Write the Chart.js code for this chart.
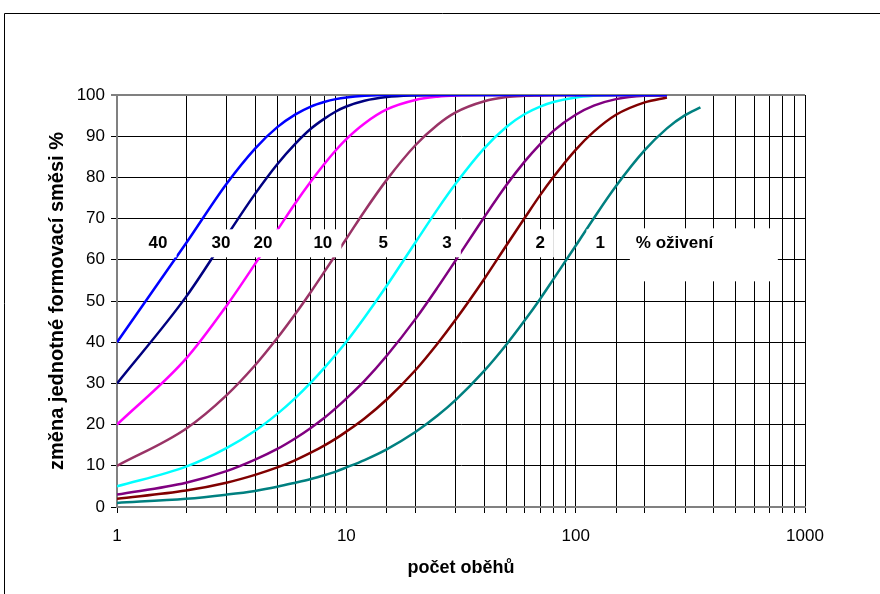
<!DOCTYPE html>
<html lang="cs">

<head>
  <meta charset="UTF-8">
  <title>Změna formovací směsi</title>
  <script type="text/javascript" src="https://cdn.jsdelivr.net/npm/chart.js@4.4.1/dist/chart.umd.min.js"></script>
  <style>
    body { margin: 0; background: #fff; }
    #wrap { position: relative; width: 880px; height: 594px; }
  </style>
</head>

<body>
  <div id="wrap"><canvas id="smes"></canvas></div>

  <script>
    // pocet obehu (x values)
    const cycles = [1, 2, 3, 4, 5, 6, 7, 8, 9, 10, 12, 15, 20, 25, 30, 40, 50, 60, 70, 80, 100, 120, 150, 200, 250, 300, 350];

    // zmena jednotne formovaci smesi % for each % oziveni
    const revive40 = [40, 64, 78.4, 87.0, 92.2, 95.3, 97.2, 98.3, 99.0, 99.4, 99.8, 100, 100, 100, 100, 100, 100, 100, 100, 100, 100, 100, 100, 100, 100, null, null];
    const revive30 = [30, 51, 65.7, 76.0, 83.2, 88.2, 91.8, 94.2, 96.0, 97.2, 98.6, 99.5, 99.9, 100, 100, 100, 100, 100, 100, 100, 100, 100, 100, 100, 100, null, null];
    const revive20 = [20, 36, 48.8, 59.0, 67.2, 73.8, 79.0, 83.2, 86.6, 89.3, 93.1, 96.5, 98.8, 99.6, 99.9, 100, 100, 100, 100, 100, 100, 100, 100, 100, 100, null, null];
    const revive10 = [10, 19, 27.1, 34.4, 41.0, 46.9, 52.2, 57.0, 61.3, 65.1, 71.8, 79.4, 87.8, 92.8, 95.8, 98.5, 99.5, 99.8, 99.9, 100, 100, 100, 100, 100, 100, null, null];
    const revive5 = [5, 9.8, 14.3, 18.5, 22.6, 26.5, 30.2, 33.7, 37.0, 40.1, 46.0, 53.7, 64.2, 72.3, 78.5, 87.1, 92.3, 95.4, 97.2, 98.3, 99.4, 99.8, 100, 100, 100, null, null];
    const revive3 = [3, 5.9, 8.7, 11.5, 14.1, 16.7, 19.2, 21.6, 24.0, 26.3, 30.6, 36.7, 45.6, 53.3, 59.9, 70.4, 78.2, 83.9, 88.1, 91.3, 95.2, 97.4, 99.0, 99.8, 99.9, null, null];
    const revive2 = [2, 4.0, 5.9, 7.8, 9.6, 11.4, 13.2, 14.9, 16.6, 18.3, 21.5, 26.1, 33.2, 39.7, 45.5, 55.4, 63.6, 70.2, 75.7, 80.1, 86.7, 91.1, 95.2, 98.2, 99.4, null, null];
    const revive1 = [1, 2.0, 3.0, 3.9, 4.9, 5.9, 6.8, 7.7, 8.6, 9.6, 11.4, 14.0, 18.2, 22.2, 26.0, 33.1, 39.5, 45.3, 50.5, 55.3, 63.4, 70.1, 77.9, 86.6, 91.9, 95.1, 97.0];

    const seriesNames = ['40', '30', '20', '10', '5', '3', '2', '1'];
    const seriesValues = [revive40, revive30, revive20, revive10, revive5, revive3, revive2, revive1];
    const seriesColors = ['#0000FF', '#000080', '#FF00FF', '#993366', '#00FFFF', '#800080', '#800000', '#008080'];

    // where the curve labels sit (x in cycles, y in %)
    const labelCycles = [1.51, 2.84, 4.33, 7.9, 14.5, 27.5, 70, 128];
    const labelLevel = 64;
    const unitText = '% oživení';
    const unitCycles = 183;

    const xTickLabels = [1, 10, 100, 1000];

    const FONT = '"Liberation Sans", Arial, sans-serif';
    Chart.defaults.font.family = FONT;
    Chart.defaults.color = '#000';

    const datasets = seriesNames.map((name, i) => ({
      label: name,
      data: cycles.map((c, j) => ({ x: c, y: seriesValues[i][j] })).filter(p => p.y !== null),
      borderColor: seriesColors[i],
      backgroundColor: seriesColors[i],
      borderWidth: 2.5,
      pointRadius: 0,
      fill: false,
      cubicInterpolationMode: 'monotone'
    }));

    // white page + outer frame
    const framePlugin = {
      id: 'frame',
      beforeDraw(chart) {
        const c = chart.ctx;
        c.save();
        c.fillStyle = '#fff';
        c.fillRect(0, 0, chart.width, chart.height);
        c.strokeStyle = '#000';
        c.lineWidth = 1;
        c.beginPath();
        c.moveTo(4.5, chart.height);
        c.lineTo(4.5, 13.5);
        c.lineTo(chart.width, 13.5);
        c.stroke();
        c.restore();
      }
    };

    // curve labels with white boxes
    const labelPlugin = {
      id: 'curveLabels',
      afterDatasetsDraw(chart) {
        const c = chart.ctx;
        const xs = chart.scales.x;
        const ys = chart.scales.y;
        const yPix = ys.getPixelForValue(labelLevel);
        c.save();
        c.font = 'bold 17px ' + FONT;
        c.textBaseline = 'middle';
        seriesNames.forEach((name, i) => {
          const xPix = xs.getPixelForValue(labelCycles[i]);
          const w = c.measureText(name).width + 18;
          c.fillStyle = '#fff';
          c.fillRect(xPix - w / 2, yPix - 14, w, 28);
          c.fillStyle = '#000';
          c.textAlign = 'center';
          c.fillText(name, xPix, yPix);
        });
        const ux = xs.getPixelForValue(unitCycles);
        c.fillStyle = '#fff';
        c.fillRect(ux - 6, yPix - 15, 148, 53);
        c.fillStyle = '#000';
        c.textAlign = 'left';
        c.fillText(unitText, ux, yPix);
        c.restore();
      }
    };

    new Chart(document.getElementById('smes'), {
      type: 'line',
      data: { datasets },
      plugins: [framePlugin, labelPlugin],
      options: {
        responsive: true,
        maintainAspectRatio: false,
        animation: false,
        layout: { padding: { left: 45, top: 95, right: 75, bottom: 15 } },
        plugins: {
          legend: { display: false },
          tooltip: { enabled: false }
        },
        scales: {
          x: {
            type: 'logarithmic',
            min: 1,
            max: 1000,
            afterFit(scale) { scale.height = 72; },
            border: { color: '#808080', width: 2 },
            grid: { color: '#000', lineWidth: 1, tickLength: 6 },
            ticks: {
              autoSkip: false,
              maxRotation: 0,
              padding: 13,
              font: { size: 17 },
              callback: v => xTickLabels.includes(v) ? String(v) : ''
            },
            title: {
              display: true,
              text: 'počet oběhů',
              padding: 0,
              font: { size: 18, weight: 'bold' }
            }
          },
          y: {
            min: 0,
            max: 100,
            afterFit(scale) { scale.width = 72; },
            border: { color: '#808080', width: 2 },
            grid: {
              color: ctx => ctx.tick && ctx.tick.value === 100 ? '#808080' : '#000',
              lineWidth: ctx => ctx.tick && ctx.tick.value === 100 ? 2 : 1,
              tickLength: 6
            },
            ticks: {
              stepSize: 10,
              padding: 6,
              font: { size: 17 }
            },
            title: {
              display: true,
              text: 'změna jednotné formovací směsi %',
              padding: 0,
              font: { size: 20, weight: 'bold' }
            }
          }
        }
      }
    });
  </script>
</body>

</html>
